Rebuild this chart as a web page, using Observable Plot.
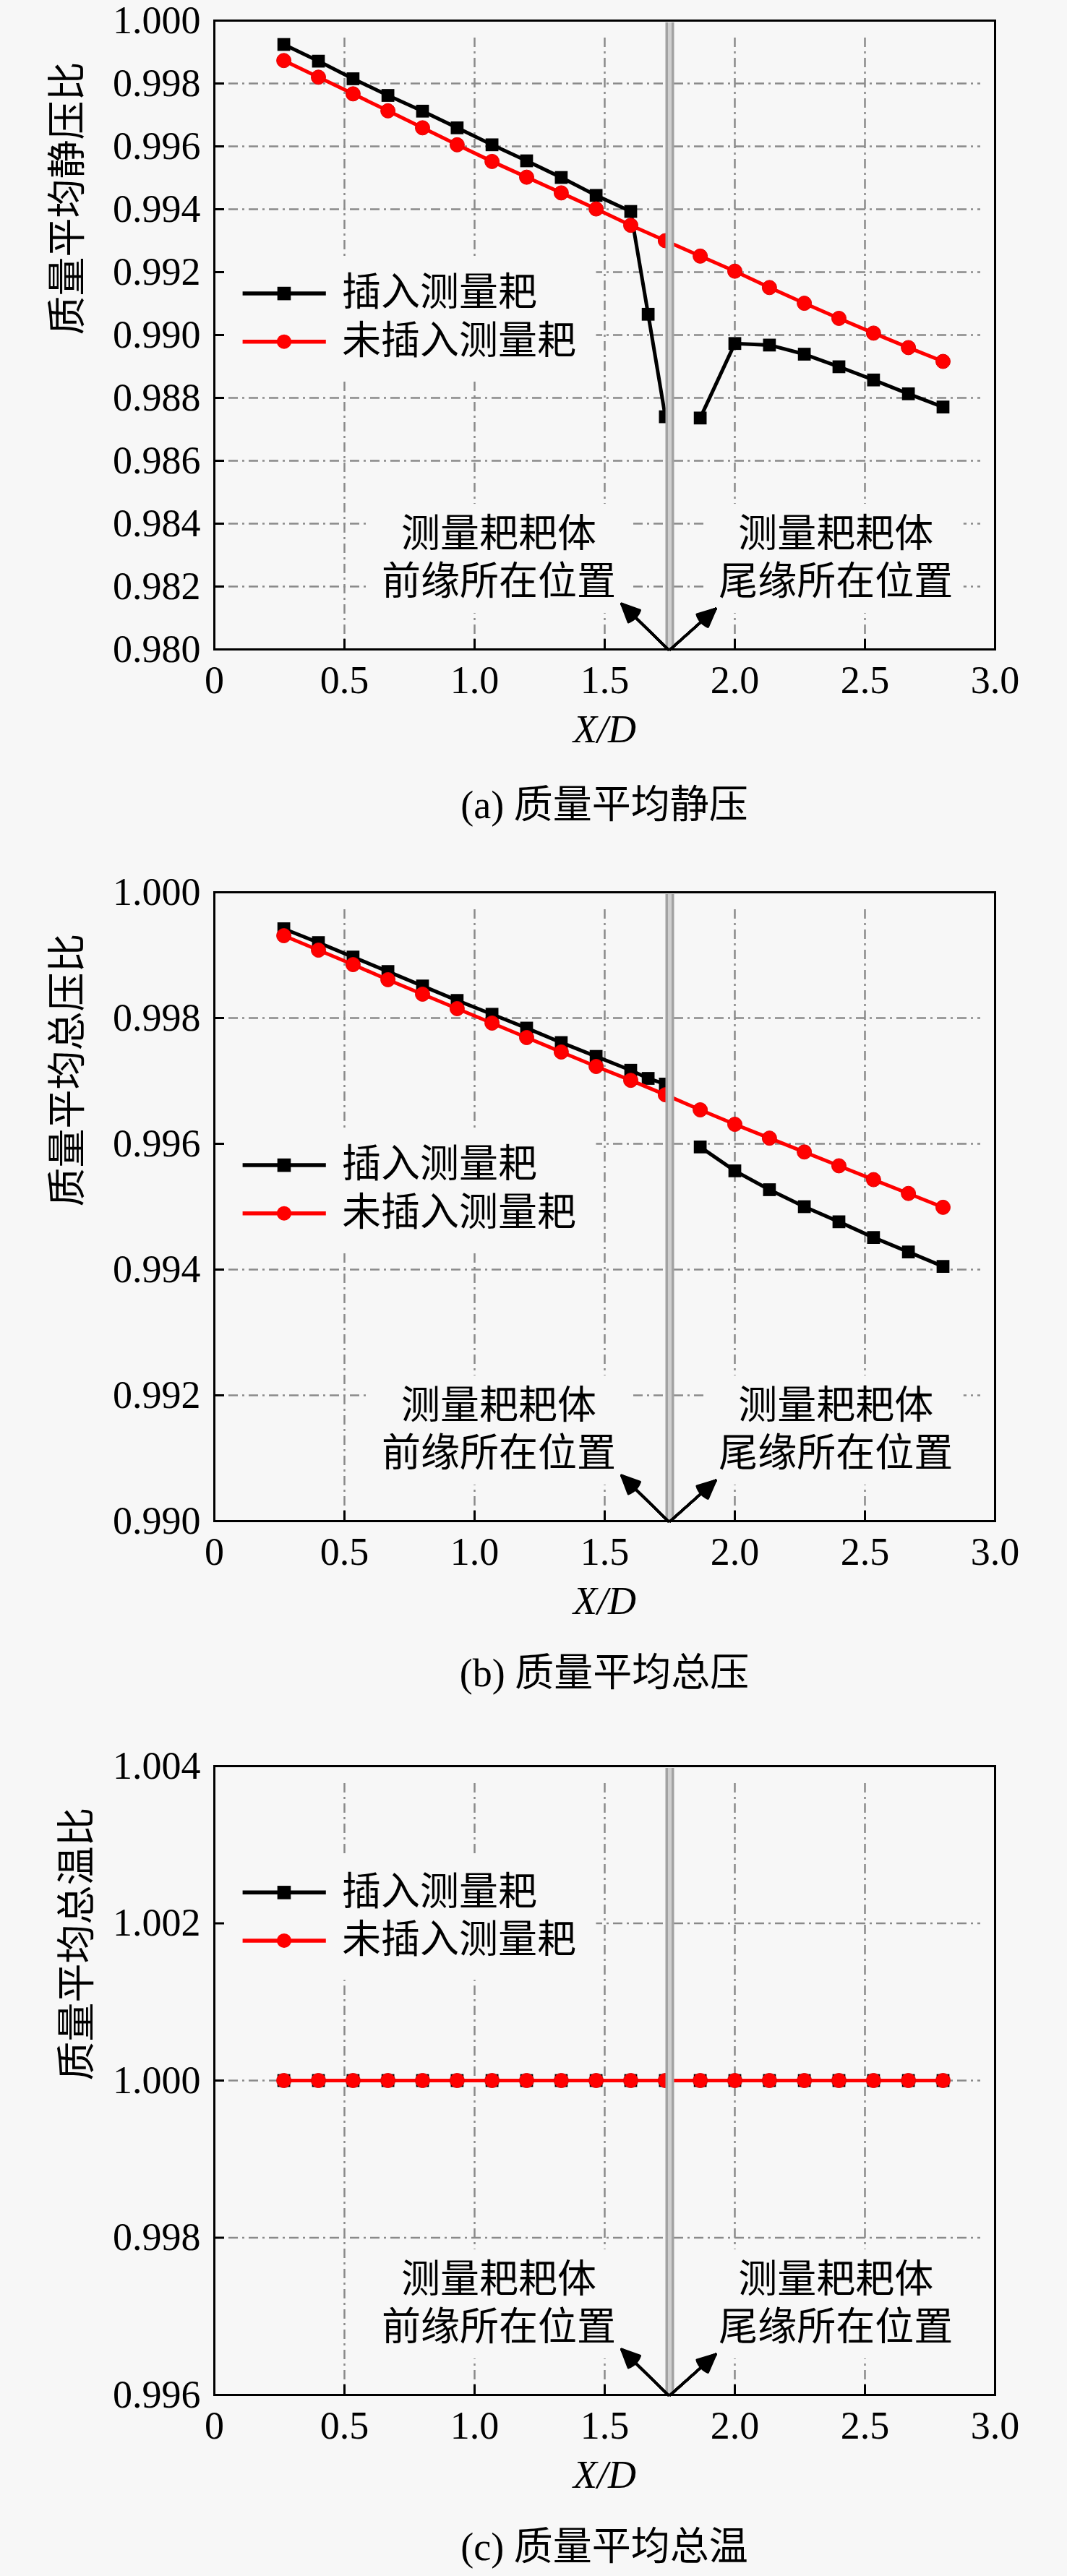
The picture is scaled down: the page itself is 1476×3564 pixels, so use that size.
<!DOCTYPE html>
<html>
<head>
<meta charset="utf-8">
<script src="https://cdn.jsdelivr.net/npm/d3@7"></script>
<script src="https://cdn.jsdelivr.net/npm/@observablehq/plot@0.6"></script>
<style>
  html, body { margin: 0; padding: 0; background: #f7f7f7; }
  #wrap { position: relative; width: 1476px; height: 3564px; overflow: hidden; background: #f7f7f7; }
  .panel { position: absolute; left: 0; z-index: 1; }
  .panel svg text { font-family: "Liberation Serif", "Times New Roman", "Noto Sans CJK SC", serif !important; }
  .cap { position: absolute; left: 436px; width: 800px; height: 80px; line-height: 80px; text-align: center; z-index: 5;
         font-family: "Liberation Serif", "Times New Roman", "Noto Sans CJK SC", serif; font-size: 54px; color: #000; }
</style>
</head>
<body>
<div id="wrap"></div>
<script>
// ---------- data ----------
const xPos = [0.267, 0.4, 0.533, 0.667, 0.8, 0.933, 1.067, 1.2, 1.333, 1.467, 1.6, 1.733,
              1.867, 2.0, 2.133, 2.267, 2.4, 2.533, 2.667, 2.8];
const xPosProbe = [0.267, 0.4, 0.533, 0.667, 0.8, 0.933, 1.067, 1.2, 1.333, 1.467, 1.6, 1.667, 1.733,
                   1.867, 2.0, 2.133, 2.267, 2.4, 2.533, 2.667, 2.8];
const probeSegment = [1, 1, 1, 1, 1, 1, 1, 1, 1, 1, 1, 1, 1, 2, 2, 2, 2, 2, 2, 2, 2];

// (a) static pressure ratio
const staticProbe = [0.99924, 0.99871, 0.99815, 0.99762, 0.99712, 0.99659, 0.99605, 0.99554, 0.99501, 0.99444,
                     0.99393, 0.99066, 0.98740, 0.98736, 0.98973, 0.98968, 0.98939, 0.98899, 0.98857, 0.98813, 0.98771];
const staticClean = [0.99873, 0.99820, 0.99767, 0.99713, 0.99659, 0.99605, 0.99552, 0.99502, 0.99452, 0.99401,
                     0.99349, 0.99300, 0.99251, 0.99203, 0.99151, 0.99101, 0.99053, 0.99006, 0.98960, 0.98916];
// (b) total pressure ratio
const totalPProbe = [0.99942, 0.99920, 0.99897, 0.99874, 0.99851, 0.99828, 0.99806, 0.99784, 0.99761, 0.99739,
                     0.99717, 0.99704, 0.99695, 0.99595, 0.99557, 0.99527, 0.99500, 0.99476, 0.99451, 0.99428, 0.99405];
const totalPClean = [0.99931, 0.99908, 0.99885, 0.99861, 0.99838, 0.99815, 0.99792, 0.99769, 0.99746, 0.99723,
                     0.99701, 0.99678, 0.99654, 0.99631, 0.99609, 0.99587, 0.99565, 0.99543, 0.99521, 0.99499];
// (c) total temperature ratio
const totalTProbe = [1.0, 1.0, 1.0, 1.0, 1.0, 1.0, 1.0, 1.0, 1.0, 1.0, 1.0, 1.0, 1.0, 1.0, 1.0, 1.0, 1.0, 1.0, 1.0, 1.0];
const totalTClean = [1.0, 1.0, 1.0, 1.0, 1.0, 1.0, 1.0, 1.0, 1.0, 1.0, 1.0, 1.0, 1.0, 1.0, 1.0, 1.0, 1.0, 1.0, 1.0, 1.0];
const totalTSegment = [1, 1, 1, 1, 1, 1, 1, 1, 1, 1, 1, 1, 1, 1, 1, 1, 1, 1, 1, 1];

const xTicks = [0, 0.5, 1.0, 1.5, 2.0, 2.5, 3.0];
const xGrid = [0.5, 1.0, 1.5, 2.0, 2.5];
const yTicksA = [0.980, 0.982, 0.984, 0.986, 0.988, 0.990, 0.992, 0.994, 0.996, 0.998, 1.000];
const yTicksB = [0.990, 0.992, 0.994, 0.996, 0.998, 1.000];
const yTicksC = [0.996, 0.998, 1.000, 1.002, 1.004];

const probeX = 1.75;
const seriesNames = ["插入测量耙", "未插入测量耙"];
const noteLeft = ["测量耙耙体", "前缘所在位置"];
const noteRight = ["测量耙耙体", "尾缘所在位置"];
const xLabel = "X/D";
const yLabels = ["质量平均静压比", "质量平均总压比", "质量平均总温比"];
const captions = ["(a) 质量平均静压", "(b) 质量平均总压", "(c) 质量平均总温"];

// ---------- style ----------
const FONT = '"Liberation Serif", "Times New Roman", "Noto Sans CJK SC", serif';
const BG = "#f7f7f7";
const RED = "#ff0000";
const GRID = "#8a8a8a";
const DASH = "13,6,3,6";
const PLOT_H = 870;
const PLOT_W = 1080;

function makePanel({yDomain, yTicks, probe, probeXs, probeSeg, clean, yLabel, labelDx, legendTop, marginTop}) {
  const [y0, y1] = yDomain;
  const yAt = f => y0 + f * (y1 - y0);
  const bRows = probeXs.map((x, i) => ({x, y: probe[i], seg: probeSeg[i]}));
  const rRows = xPos.map((x, i) => ({x, y: clean[i]}));

  const e1 = legendTop, e2 = legendTop - 0.0765;
  const boxes = [
    {x1: 0.0, x2: 1.468, y1: yAt(e2 - 0.063), y2: yAt(e1 + 0.057)},
    {x1: 0.59, x2: 1.60, y1: yAt(0.0575), y2: yAt(0.231)},
    {x1: 1.89, x2: 2.88, y1: yAt(0.0575), y2: yAt(0.231)}
  ];
  const notes = [
    {x: 1.093, y: yAt(0.1828), t: noteLeft[0]},
    {x: 1.093, y: yAt(0.1069), t: noteLeft[1]},
    {x: 2.388, y: yAt(0.1828), t: noteRight[0]},
    {x: 2.388, y: yAt(0.1069), t: noteRight[1]}
  ];
  const arrows = [
    {x1: 1.744, y1: y0, x2: 1.565, y2: yAt(0.0724)},
    {x1: 1.752, y1: y0, x2: 1.926, y2: yAt(0.0644)}
  ];
  const leg = [{y: yAt(e1), t: seriesNames[0]}, {y: yAt(e2), t: seriesNames[1]}];

  const arrowMarks = [50, 42, 34, 26, 18, 10, 3].map(a =>
    Plot.arrow(arrows, {x1: "x1", y1: "y1", x2: "x2", y2: "y2", stroke: "#000", strokeWidth: 3.5,
                        headLength: 11.5, headAngle: a, strokeLinejoin: "miter"}));

  return Plot.plot({
    width: 1476,
    height: marginTop + PLOT_H + 150,
    marginTop, marginBottom: 150, marginLeft: 296, marginRight: 100,
    style: {background: BG, fontFamily: FONT, fontSize: "54px", color: "#000", overflow: "visible"},
    x: {domain: [0, 3], ticks: xTicks, tickFormat: d => d === 0 ? "0" : d.toFixed(1),
        tickSize: 0, tickPadding: 22, label: null},
    y: {domain: yDomain, ticks: yTicks, tickFormat: d => d.toFixed(3),
        tickSize: 0, tickPadding: 19, label: null},
    marks: [
      Plot.tickY(yTicks.slice(1, -1), {y: d => d, stroke: GRID, strokeWidth: 2.5, strokeDasharray: DASH,
                                        insetLeft: 20, insetRight: 20}),
      Plot.tickX(xGrid, {x: d => d, stroke: GRID, strokeWidth: 2.5, strokeDasharray: DASH, insetTop: 24}),
      Plot.rect(boxes, {x1: "x1", x2: "x2", y1: "y1", y2: "y2", fill: BG}),
      Plot.line(bRows, {x: "x", y: "y", z: "seg", stroke: "#000", strokeWidth: 5}),
      Plot.dot(bRows, {x: "x", y: "y", symbol: "square", r: 10, fill: "#000"}),
      Plot.line(rRows, {x: "x", y: "y", stroke: RED, strokeWidth: 5}),
      Plot.dot(rRows, {x: "x", y: "y", r: 10, fill: RED, stroke: "#e00000", strokeWidth: 1}),
      Plot.ruleX([probeX], {x: d => d, stroke: "#a2a2a2", strokeWidth: 12, insetTop: 3}),
      Plot.ruleX([probeX], {x: d => d, stroke: "#cfcfcf", strokeWidth: 5, insetTop: 3}),
      ...arrowMarks,
      Plot.text(notes, {x: "x", y: "y", text: "t", fontSize: 54, textAnchor: "middle", fontFamily: FONT}),
      // legend
      Plot.ruleY([leg[0]], {y: "y", x1: () => 0.11, x2: () => 0.43, stroke: "#000", strokeWidth: 5.5}),
      Plot.dot([leg[0]], {x: () => 0.268, y: "y", symbol: "square", r: 10.5, fill: "#000"}),
      Plot.ruleY([leg[1]], {y: "y", x1: () => 0.11, x2: () => 0.43, stroke: RED, strokeWidth: 5.5}),
      Plot.dot([leg[1]], {x: () => 0.268, y: "y", r: 10, fill: RED}),
      Plot.text(leg, {x: () => 0.49, y: "y", text: "t", textAnchor: "start", fontSize: 54, fontFamily: FONT}),
      // axis titles
      Plot.text([yLabel], {text: d => d, frameAnchor: "left", dx: labelDx, rotate: -90, fontSize: 54, fontFamily: FONT}),
      Plot.text([xLabel], {text: d => d, frameAnchor: "bottom", dy: 128, fontSize: 54, fontStyle: "italic", fontFamily: FONT}),
      Plot.frame({stroke: "#000", strokeWidth: 3}),
      Plot.tickY(yTicks, {y: d => d, stroke: "#000", strokeWidth: 3, insetRight: PLOT_W - 14}),
      Plot.tickX(xTicks, {x: d => d, stroke: "#000", strokeWidth: 3, insetTop: PLOT_H - 14})
    ]
  });
}

const wrap = document.getElementById("wrap");
const panels = [
  {top: 0, marginTop: 28, yDomain: [0.980, 1.000], yTicks: yTicksA, probe: staticProbe, probeXs: xPosProbe,
   probeSeg: probeSegment, clean: staticClean, yLabel: yLabels[0], labelDx: -202, legendTop: 0.566, cap: 1114},
  {top: 1100, marginTop: 134, yDomain: [0.990, 1.000], yTicks: yTicksB, probe: totalPProbe, probeXs: xPosProbe,
   probeSeg: probeSegment, clean: totalPClean, yLabel: yLabels[1], labelDx: -202, legendTop: 0.566, cap: 2315},
  {top: 2300, marginTop: 143, yDomain: [0.996, 1.004], yTicks: yTicksC, probe: totalTProbe, probeXs: xPos,
   probeSeg: totalTSegment, clean: totalTClean, yLabel: yLabels[2], labelDx: -189, legendTop: 0.799, cap: 3524}
];
panels.forEach((p, i) => {
  const svg = makePanel(p);
  const div = document.createElement("div");
  div.className = "panel";
  div.style.top = p.top + "px";
  div.appendChild(svg);
  wrap.appendChild(div);
  const cap = document.createElement("div");
  cap.className = "cap";
  cap.style.top = (p.cap - 40) + "px";
  cap.textContent = captions[i];
  wrap.appendChild(cap);
});
</script>
</body>
</html>
